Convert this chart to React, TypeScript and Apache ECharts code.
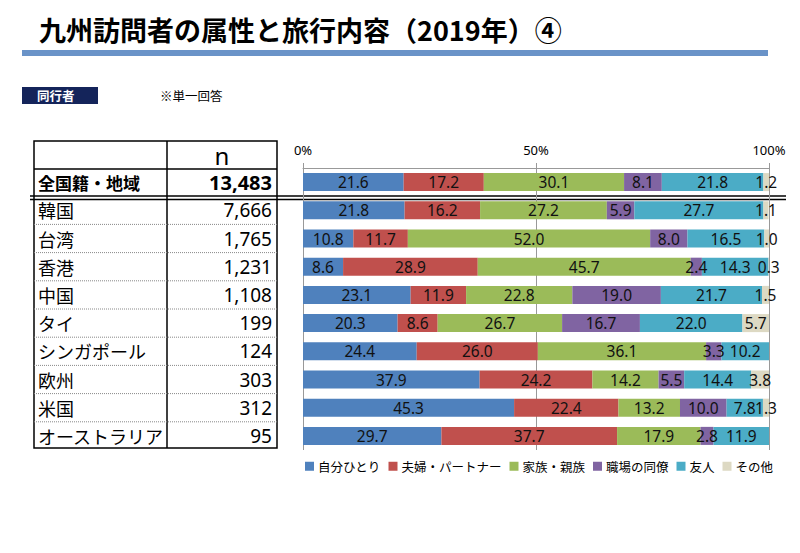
import React, { useEffect, useRef } from "react";
import * as echarts from "echarts";

const regions = ["全国籍・地域", "韓国", "台湾", "香港", "中国", "タイ", "シンガポール", "欧州", "米国", "オーストラリア"];
const sampleSizes = ["13,483", "7,666", "1,765", "1,231", "1,108", "199", "124", "303", "312", "95"];
const seriesNames = ["自分ひとり", "夫婦・パートナー", "家族・親族", "職場の同僚", "友人", "その他"];
const alone = [21.6, 21.8, 10.8, 8.6, 23.1, 20.3, 24.4, 37.9, 45.3, 29.7];
const couple = [17.2, 16.2, 11.7, 28.9, 11.9, 8.6, 26.0, 24.2, 22.4, 37.7];
const family = [30.1, 27.2, 52.0, 45.7, 22.8, 26.7, 36.1, 14.2, 13.2, 17.9];
const colleagues = [8.1, 5.9, 8.0, 2.4, 19.0, 16.7, 3.3, 5.5, 10.0, 2.8];
const friends = [21.8, 27.7, 16.5, 14.3, 21.7, 22.0, 10.2, 14.4, 7.8, 11.9];
const others = [1.2, 1.1, 1.0, 0.3, 1.5, 5.7, 0, 3.8, 1.3, 0];
const seriesValues = [alone, couple, family, colleagues, friends, others];
const colors = ["#4f81bd", "#c0504d", "#9bbb59", "#8064a2", "#4bacc6", "#ddd9c3"];

const TITLE = "九州訪問者の属性と旅行内容（2019年）④";
const BADGE = "同行者";
const NOTE = "※単一回答";
const N_HEADER = "n";

const JP = "'Noto Sans CJK JP', 'Noto Sans', sans-serif";
const NUM = "'Noto Sans', 'Liberation Sans', sans-serif";

export default function App() {
  const ref = useRef<HTMLDivElement>(null);
  useEffect(() => {
    if (!ref.current) return;
    const chart = echarts.init(ref.current, undefined, { renderer: "svg" });

    const gridTop = 168;
    const gridBottomPx = 450;
    const band = (gridBottomPx - gridTop) / regions.length;
    const rowC = (i: number) => gridTop + band * (i + 0.5);

    const tL = 34, tM = 167, tR = 277, tTop = 141, tHead = 169, tTotal = 196, tBody = 199.5, tBot = 448;

    const graphics: any[] = [
      { type: "text", x: 39, y: 29, style: { text: TITLE, font: `bold 27px ${JP}`, fill: "#000", textVerticalAlign: "middle" } },
      { type: "rect", shape: { x: 22, y: 50, width: 746, height: 6 }, style: { fill: "#6a93c8" } },
      { type: "rect", shape: { x: 22, y: 87, width: 76, height: 17 }, style: { fill: "#14245a" } },
      { type: "text", x: 37, y: 95.5, style: { text: BADGE, font: `bold 12.5px ${JP}`, fill: "#fff", textVerticalAlign: "middle" } },
      { type: "text", x: 160, y: 95.5, style: { text: NOTE, font: `12.5px ${JP}`, fill: "#000", textVerticalAlign: "middle" } },
      // table frame
      { type: "rect", shape: { x: tL, y: tTop, width: tR - tL, height: tBot - tTop }, style: { fill: "none", stroke: "#000", lineWidth: 1.5 } },
      { type: "line", shape: { x1: tM, y1: tTop, x2: tM, y2: tBot }, style: { stroke: "#000", lineWidth: 1.5 } },
      { type: "line", shape: { x1: tL, y1: tHead, x2: tR, y2: tHead }, style: { stroke: "#000", lineWidth: 1.5 } },
      { type: "line", shape: { x1: 30, y1: tTotal, x2: 786, y2: tTotal }, style: { stroke: "#000", lineWidth: 1.3 } },
      { type: "line", shape: { x1: 30, y1: tBody, x2: 786, y2: tBody }, style: { stroke: "#000", lineWidth: 1.3 } },
      { type: "text", x: (tM + tR) / 2, y: 155, style: { text: N_HEADER, font: `24px ${NUM}`, fill: "#000", textAlign: "center", textVerticalAlign: "middle" } },
    ];

    regions.forEach((r, i) => {
      const cy = i === 0 ? (tHead + tTotal) / 2 : rowC(i);
      const bold = i === 0;
      graphics.push({ type: "text", x: 38, y: cy, style: { text: r, font: `${bold ? "bold " : ""}${bold ? 17 : 18}px ${JP}`, fill: "#000", textVerticalAlign: "middle" } });
      graphics.push({ type: "text", x: 272, y: cy, style: { text: sampleSizes[i], font: `${bold ? "bold " : ""}${bold ? 20 : 19}px ${NUM}`, fill: "#000", textAlign: "right", textVerticalAlign: "middle" } });
      if (i >= 2) {
        const sy = gridTop + band * i;
        graphics.push({ type: "line", shape: { x1: tL, y1: sy, x2: tR, y2: sy }, style: { stroke: "#888", lineWidth: 1, lineDash: [1, 1] } });
      }
    });

    chart.setOption({
      animation: false,
      backgroundColor: "#fff",
      color: colors,
      grid: { left: 303, right: 31, top: gridTop, bottom: 553 - gridBottomPx, containLabel: false },
      legend: {
        left: 300,
        top: 455,
        itemWidth: 9,
        itemHeight: 9,
        itemGap: 8,
        icon: "rect",
        textStyle: { fontFamily: JP, fontSize: 12.5, color: "#000", padding: [0, 0, 0, -1] },
        data: seriesNames,
      },
      xAxis: {
        type: "value",
        position: "top",
        min: 0,
        max: 100,
        interval: 50,
        axisLine: { show: true, lineStyle: { color: "#999", width: 1 } },
        axisTick: { show: true, length: 5, lineStyle: { color: "#999" } },
        axisLabel: { formatter: "{value}%", fontFamily: NUM, fontSize: 13, color: "#000", margin: 12 },
        splitLine: { show: true, lineStyle: { color: "#999", width: 1 } },
      },
      yAxis: {
        type: "category",
        data: regions,
        inverse: true,
        show: false,
      },
      series: seriesNames.map((name, si) => ({
        name,
        type: "bar",
        stack: "total",
        barWidth: "64%",
        data: seriesValues[si],
        itemStyle: { color: colors[si] },
        label: {
          show: true,
          position: "inside",
          fontFamily: NUM,
          fontSize: 15.5,
          color: "#111",
          formatter: (p: any) => (p.value > 0 ? Number(p.value).toFixed(1) : ""),
        },
      })),
      graphic: graphics,
    });
    return () => chart.dispose();
  }, []);
  return <div ref={ref} style={{ width: 800, height: 553, position: "absolute", left: 0, top: 0 }} />;
}
